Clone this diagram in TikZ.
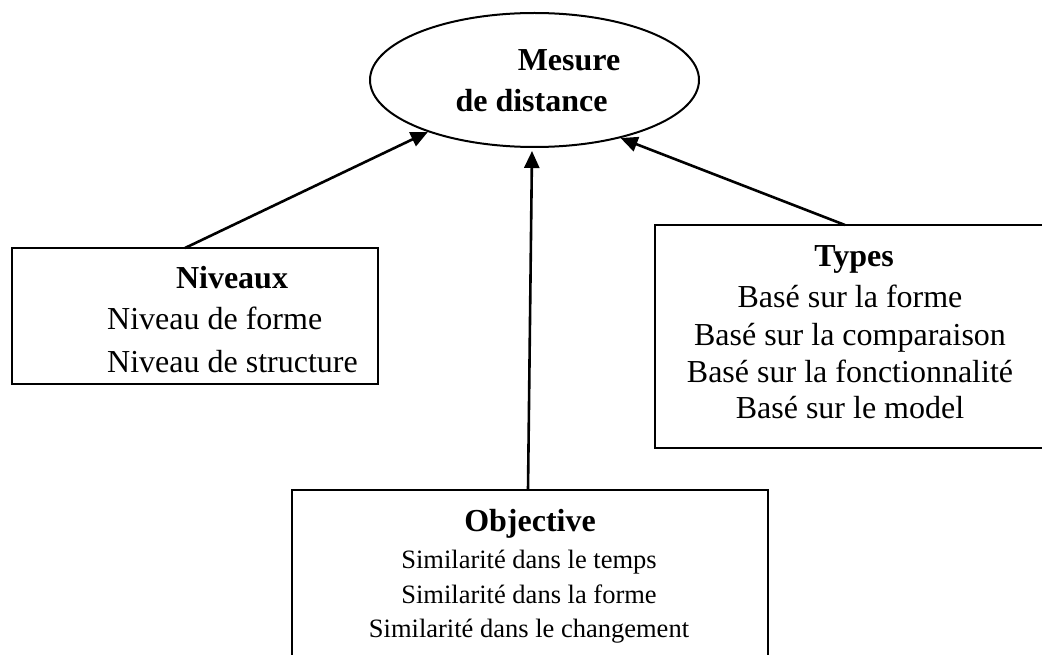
\documentclass[tikz,border=0pt]{standalone}
\usepackage{fontspec}
\setmainfont{Liberation Serif}
\usetikzlibrary{arrows.meta,shapes.geometric}
\begin{document}
\begin{tikzpicture}[x=1pt,y=-1pt,
  frame/.style={draw, line width=2pt, rectangle, inner sep=0pt},
  txt/.style={inner sep=0pt, anchor=base, font=\fontsize{32}{38}\selectfont},
  boldtxt/.style={inner sep=0pt, anchor=base, font=\fontsize{32}{38}\selectfont\bfseries},
  smalltxt/.style={inner sep=0pt, anchor=base, font=\fontsize{26.5}{32}\selectfont},
  link/.style={line width=2.6pt, -{Triangle[length=17pt,width=15pt]}}]
\useasboundingbox (0,0) rectangle (1042,655);
\clip (0,0) rectangle (1042,655);

% central concept
\node[ellipse, draw, line width=2pt, minimum width=329pt, minimum height=134pt] (ell) at (534.5,80) {};
\node[boldtxt] (mesure) at (569,71) {Mesure};
\node[boldtxt] (distance) at (531.5,112) {de distance};

% left box: levels
\node[frame, minimum width=366pt, minimum height=136pt] (niv) at (195,316) {};
\node[boldtxt] (nivtitle) at (232,288) {Niveaux};
\node[txt, anchor=base west] (niv1) at (107,330) {Niveau de forme};
\node[txt, anchor=base west] (niv2) at (107,372) {Niveau de structure};

% right box: types
\node[frame, minimum width=405pt, minimum height=223pt] (typ) at (857.5,336.5) {};
\node[boldtxt] (typtitle) at (854,266) {Types};
\node[txt] (typ1) at (850,308) {Basé sur la forme};
\node[txt] (typ2) at (850,345) {Basé sur la comparaison};
\node[txt] (typ3) at (850,382) {Basé sur la fonctionnalité};
\node[txt] (typ4) at (850,418) {Basé sur le model};

% bottom box: objectives
\node[frame, minimum width=476pt, minimum height=190pt] (obj) at (530,585) {};
\node[boldtxt] (objtitle) at (530,531) {Objective};
\node[smalltxt] (obj1) at (529,568) {Similarité dans le temps};
\node[smalltxt] (obj2) at (529,603) {Similarité dans la forme};
\node[smalltxt] (obj3) at (529,637) {Similarité dans le changement};

% connector end points
\coordinate (nivtop) at (185,248);
\coordinate (typtop) at (845,225);
\coordinate (objtop) at (528,490);
\coordinate (midtip) at (532,151);

\draw[link] (nivtop) -- (ell.206);
\draw[link] (typtop) -- (ell.326.8);
\draw[link] (objtop) -- (midtip);
\end{tikzpicture}
\end{document}
